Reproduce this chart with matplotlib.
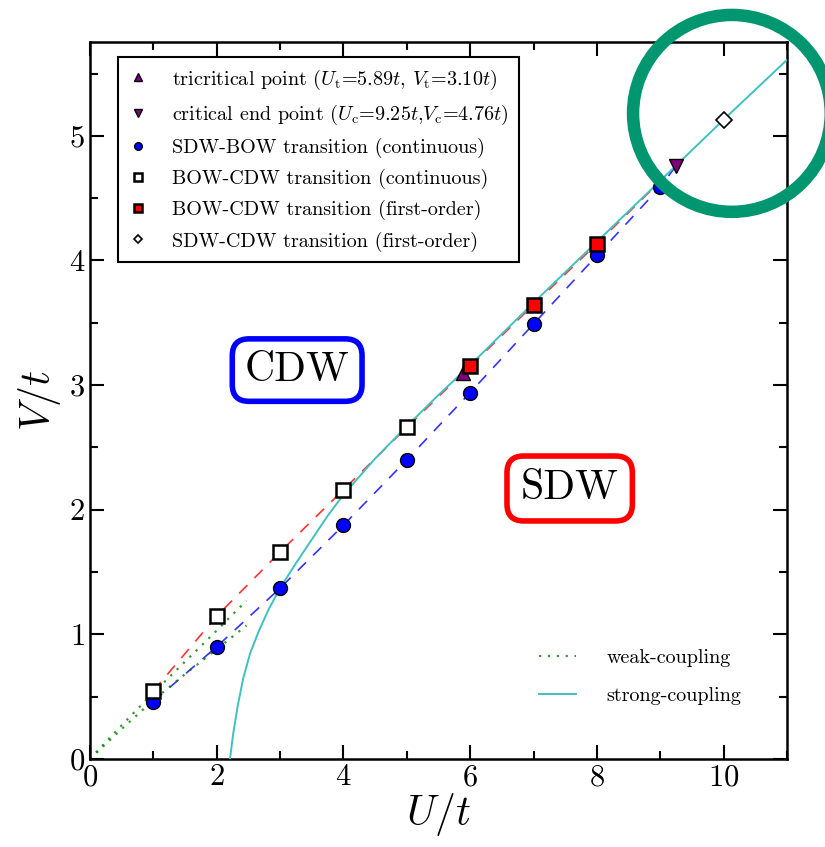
import matplotlib

matplotlib.use("Agg")
import matplotlib.pyplot as plt
from matplotlib.patches import Ellipse
from matplotlib.ticker import MultipleLocator

plt.rcParams["font.family"] = "cmr10"
plt.rcParams["mathtext.fontset"] = "cm"
plt.rcParams["axes.formatter.use_mathtext"] = True

# SDW-BOW transition (continuous)
sdw_bow_u = [1, 2, 3, 4, 5, 6, 7, 8, 9]
sdw_bow_v = [0.46, 0.90, 1.37, 1.875, 2.40, 2.94, 3.49, 4.04, 4.59]

# BOW-CDW transition (continuous)
bow_cdw_c_u = [1, 2, 3, 4, 5]
bow_cdw_c_v = [0.545, 1.145, 1.66, 2.16, 2.66]

# BOW-CDW transition (first-order)
bow_cdw_f_u = [6, 7, 8]
bow_cdw_f_v = [3.15, 3.645, 4.135]

# special points
tri_u, tri_v = 5.89, 3.10
cep_u, cep_v = 9.25, 4.76

# SDW-CDW transition (first-order)
sdw_cdw_u = [10.0]
sdw_cdw_v = [5.13]

# weak-coupling curves (two dotted branches)
weak_up_u = [0.0, 0.5, 1.0, 1.5, 2.0, 2.47]
weak_up_v = [0.0, 0.27, 0.53, 0.78, 1.03, 1.27]
weak_lo_u = [0.0, 0.5, 1.0, 1.5, 2.0, 2.47]
weak_lo_v = [0.0, 0.24, 0.47, 0.68, 0.88, 1.07]

# strong-coupling curve
strong_u = [2.21, 2.26, 2.33, 2.42, 2.53, 2.66, 2.82, 3.0, 3.25, 3.5, 3.75,
            4.0, 4.5, 5.0, 5.5, 6.0, 7.0, 8.0, 9.0, 10.0, 11.0]
strong_v = [0.0, 0.2, 0.42, 0.65, 0.85, 1.02, 1.2, 1.37, 1.57, 1.76, 1.95,
            2.12, 2.41, 2.67, 2.92, 3.16, 3.66, 4.15, 4.64, 5.13, 5.61]

fig = plt.figure(figsize=(8.25, 8.47), dpi=100)
ax = fig.add_axes([0.109, 0.104, 0.845, 0.846])

# dashed phase boundaries
ax.plot(sdw_bow_u + [cep_u], sdw_bow_v + [cep_v], "--", color="blue",
        lw=1.2, dashes=(7, 6), alpha=0.8, zorder=2)
ax.plot(bow_cdw_c_u + [tri_u] + bow_cdw_f_u + [cep_u],
        bow_cdw_c_v + [tri_v] + bow_cdw_f_v + [cep_v], "--", color="red",
        lw=1.2, dashes=(7, 6), alpha=0.8, zorder=2)

l_weak, = ax.plot(weak_up_u, weak_up_v, ":", color="green", lw=1.6,
                  dashes=(1, 3), alpha=0.8, label="weak-coupling", zorder=2)
ax.plot(weak_lo_u, weak_lo_v, ":", color="green", lw=1.6, dashes=(1, 3),
        alpha=0.8, zorder=2)
l_strong, = ax.plot(strong_u, strong_v, "-", color="#40c0c0", lw=1.4,
                    label="strong-coupling", zorder=3)

h_tri, = ax.plot([tri_u], [tri_v], "^", color="purple", mec="black", ms=10,
                 ls="none", label=r"tricritical point ($U_{\rm t}$=5.89$t$, $V_{\rm t}$=3.10$t$)", zorder=4)
h_cep, = ax.plot([cep_u], [cep_v], "v", color="purple", mec="black", ms=10,
                 ls="none", label=r"critical end point ($U_{\rm c}$=9.25$t$,$V_{\rm c}$=4.76$t$)", zorder=4)
h_sb, = ax.plot(sdw_bow_u, sdw_bow_v, "o", color="blue", mec="black", ms=10,
                ls="none", label="SDW-BOW transition (continuous)", zorder=4)
h_bc, = ax.plot(bow_cdw_c_u, bow_cdw_c_v, "s", mfc="white", mec="black",
                mew=1.8, ms=10, ls="none",
                label="BOW-CDW transition (continuous)", zorder=4)
h_bf, = ax.plot(bow_cdw_f_u, bow_cdw_f_v, "s", mfc="red", mec="black",
                mew=1.8, ms=10, ls="none",
                label="BOW-CDW transition (first-order)", zorder=4)
h_sc, = ax.plot(sdw_cdw_u, sdw_cdw_v, "D", mfc="white", mec="black",
                mew=1.2, ms=8, ls="none",
                label="SDW-CDW transition (first-order)", zorder=4)

ax.set_xlim(0, 11)
ax.set_ylim(0, 5.75)
ax.xaxis.set_major_locator(MultipleLocator(2))
ax.xaxis.set_minor_locator(MultipleLocator(1))
ax.yaxis.set_major_locator(MultipleLocator(1))
ax.yaxis.set_minor_locator(MultipleLocator(0.5))
ax.tick_params(which="both", direction="in", top=True, right=True,
               labelsize=22, width=1.5)
ax.tick_params(which="major", length=10)
ax.tick_params(which="minor", length=6)
for sp in ax.spines.values():
    sp.set_linewidth(1.8)

ax.set_xlabel(r"$U/t$", fontsize=30, labelpad=0)
ax.set_ylabel(r"$V/t$", fontsize=30, labelpad=4)

leg1 = ax.legend(handles=[h_tri, h_cep, h_sb, h_bc, h_bf, h_sc],
                 loc="upper left", bbox_to_anchor=(0.04, 0.979),
                 borderaxespad=0, fontsize=14.5, markerscale=0.55,
                 handlelength=1.0, handletextpad=1.2, labelspacing=0.55,
                 fancybox=False, edgecolor="black", framealpha=1,
                 borderpad=0.5)
leg1.get_frame().set_linewidth(1.5)
ax.add_artist(leg1)
ax.legend(handles=[l_weak, l_strong], loc="lower right",
          bbox_to_anchor=(0.96, 0.05), fontsize=14.5, frameon=False,
          handlelength=1.85, handletextpad=1.5, labelspacing=1.0)

ax.text(3.27, 3.12, "CDW", fontsize=30, ha="center", va="center",
        bbox=dict(boxstyle="round,pad=0.3,rounding_size=0.4",
                  fc="white", ec="blue", lw=4))
ax.text(7.57, 2.17, "SDW", fontsize=30, ha="center", va="center",
        bbox=dict(boxstyle="round,pad=0.33,rounding_size=0.4",
                  fc="white", ec="red", lw=4))

ax.add_patch(Ellipse((10.13, 5.18), 2 * 1.56, 2 * 0.79, fill=False,
                     ec="#009670", lw=9, clip_on=False, zorder=6))

fig.savefig("out.png", dpi=100)
